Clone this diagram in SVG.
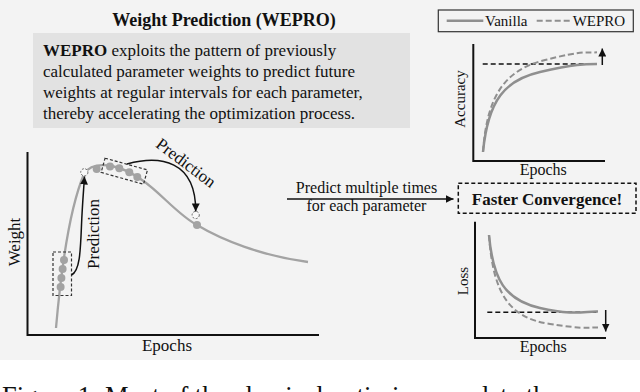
<svg xmlns="http://www.w3.org/2000/svg" width="640" height="392" viewBox="0 0 640 392" font-family="'Liberation Serif', 'Times New Roman', 'DejaVu Serif', serif">
<defs>
<style>
.t{font-family:'Liberation Serif','Times New Roman','DejaVu Serif',serif;fill:#111}
.b{font-weight:bold}
.curve{fill:none;stroke:#a3a3a3;stroke-width:2.3}
.dot{fill:#a3a3a3}
.pc{fill:#f8f8f8;stroke:#666;stroke-width:1;stroke-dasharray:2 1.5}
.dbox{fill:none;stroke:#333;stroke-width:1.2;stroke-dasharray:3 2}
.axis{fill:none;stroke:#111;stroke-width:2}
.arr{fill:none;stroke:#111;stroke-width:1.5}
.gs{fill:none;stroke:#8f8f8f;stroke-width:2.5}
.gd{fill:none;stroke:#8f8f8f;stroke-width:2;stroke-dasharray:6 3}
.kd{fill:none;stroke:#111;stroke-width:1.5;stroke-dasharray:5 3}
</style>
<marker id="ah" viewBox="0 0 10 10" refX="10" refY="5" markerWidth="8" markerHeight="8" markerUnits="userSpaceOnUse" orient="auto">
<path d="M0,0 L10,5 L0,10 z" fill="#111"/>
</marker>
</defs>
<rect x="0" y="0" width="640" height="392" fill="#fff"/>
<rect x="0" y="0" width="640" height="360" fill="#f3f3f3"/>

<g id="title">
<text class="t b" x="224" y="26" font-size="18" text-anchor="middle">Weight Prediction (WEPRO)</text>
</g>

<g id="description">
<rect x="33" y="33" width="377" height="95" fill="#e2e2e2"/>
<text class="t" x="43" y="56" font-size="17"><tspan class="b">WEPRO</tspan> exploits the pattern of previously</text>
<text class="t" x="43" y="77" font-size="17">calculated parameter weights to predict future</text>
<text class="t" x="43" y="98" font-size="17">weights at regular intervals for each parameter,</text>
<text class="t" x="43" y="119" font-size="17">thereby accelerating the optimization process.</text>
</g>

<g id="weight-chart">
<path class="axis" d="M27.5,152 V335 H319"/>
<text class="t" transform="translate(19.6,242) rotate(-90)" font-size="17" text-anchor="middle">Weight</text>
<text class="t" x="167" y="351" font-size="17" text-anchor="middle">Epochs</text>
<path class="curve" d="M56,328 C60,282 68,212 84,174 C89,166 100,164 112,166 C122,168 132,173 142,180 C160,192 178,215 197,225 C222,240 262,256 308,262"/>
<rect class="dbox" x="53" y="252" width="18.5" height="43.5"/>
<circle class="dot" cx="60.6" cy="287" r="4"/>
<circle class="dot" cx="61.4" cy="278" r="4"/>
<circle class="dot" cx="62.6" cy="269" r="4"/>
<circle class="dot" cx="64" cy="260" r="4"/>
<circle class="pc" cx="84.3" cy="172.3" r="3.6"/>
<circle class="dot" cx="96.7" cy="169" r="4"/>
<rect class="dbox" x="-22" y="-7.4" width="44" height="14.8" transform="translate(124.3,171.2) rotate(15.5)"/>
<circle class="dot" cx="110" cy="166.5" r="4"/>
<circle class="dot" cx="119.3" cy="168.3" r="4"/>
<circle class="dot" cx="129.3" cy="172.3" r="4"/>
<circle class="dot" cx="137.3" cy="177" r="4"/>
<circle class="pc" cx="195.7" cy="215" r="3.6"/>
<circle class="dot" cx="197" cy="225" r="4"/>
</g>

<g id="connectors">
<path class="arr" d="M71.5,275 C80,271 80.5,250 81.5,225 C82.3,205 83.5,192 84.5,176.5" marker-end="url(#ah)"/>
<path class="arr" d="M127,164 C160,155 196,160 195.7,211.4" marker-end="url(#ah)"/>
<path class="arr" d="M287,199 H453.5" marker-end="url(#ah)"/>
</g>

<g id="labels">
<text class="t" transform="translate(93.5,234) rotate(-90)" y="5.5" font-size="17" text-anchor="middle">Prediction</text>
<text class="t" transform="translate(186,163) rotate(37)" y="5.5" font-size="17" text-anchor="middle">Prediction</text>
<text class="t" x="366.5" y="193" font-size="16" text-anchor="middle">Predict multiple times</text>
<text class="t" x="366.5" y="211" font-size="16" text-anchor="middle">for each parameter</text>
</g>

<g id="faster-convergence">
<rect x="458.3" y="183.3" width="177.7" height="30" fill="none" stroke="#111" stroke-width="1.5" stroke-dasharray="4 2.5"/>
<text class="t b" x="547" y="205" font-size="17" text-anchor="middle">Faster Convergence!</text>
</g>

<g id="legend">
<rect x="438.3" y="10" width="195" height="21.7" fill="none" stroke="#333" stroke-width="1.2"/>
<path class="gs" d="M446.7,20.7 H483.3" stroke-width="2"/>
<text class="t" x="485" y="26" font-size="15">Vanilla</text>
<path class="gd" d="M536.7,20.7 H571.7"/>
<text class="t" x="572.7" y="26" font-size="15">WEPRO</text>
</g>

<g id="accuracy-chart">
<path class="axis" d="M473.3,44 V161 H605"/>
<text class="t" transform="translate(464.5,99) rotate(-90)" font-size="15" text-anchor="middle">Accuracy</text>
<text class="t" x="543.3" y="175" font-size="16" text-anchor="middle">Epochs</text>
<path class="kd" d="M482.7,64 H596.7"/>
<path class="gs" d="M483,152 C488,100 505,80 540,72 S585,64 597,64"/>
<path class="gd" d="M483,152 C487,95 505,70 545,60 S585,53 597,52.3"/>
<path class="arr" d="M602.3,65 V48.5" stroke-width="2" marker-end="url(#ah)"/>
</g>

<g id="loss-chart">
<path class="axis" d="M475,221.7 V338 H606"/>
<text class="t" transform="translate(468,281) rotate(-90)" font-size="15" text-anchor="middle">Loss</text>
<text class="t" x="543.3" y="352" font-size="16" text-anchor="middle">Epochs</text>
<path class="kd" d="M487.3,312.3 H598.3"/>
<path class="gs" d="M489,235 C493,280 505,300 540,308 S585,311 598,311.5"/>
<path class="gd" d="M489,235 C493,295 510,318 550,324 S588,327 598,327.5"/>
<path class="arr" d="M605.7,310 V331.5" stroke-width="2" marker-end="url(#ah)"/>
</g>

<text class="t" x="2" y="405" font-size="26.5">Figure 1: Most of the classical optimizers update the</text>
</svg>
